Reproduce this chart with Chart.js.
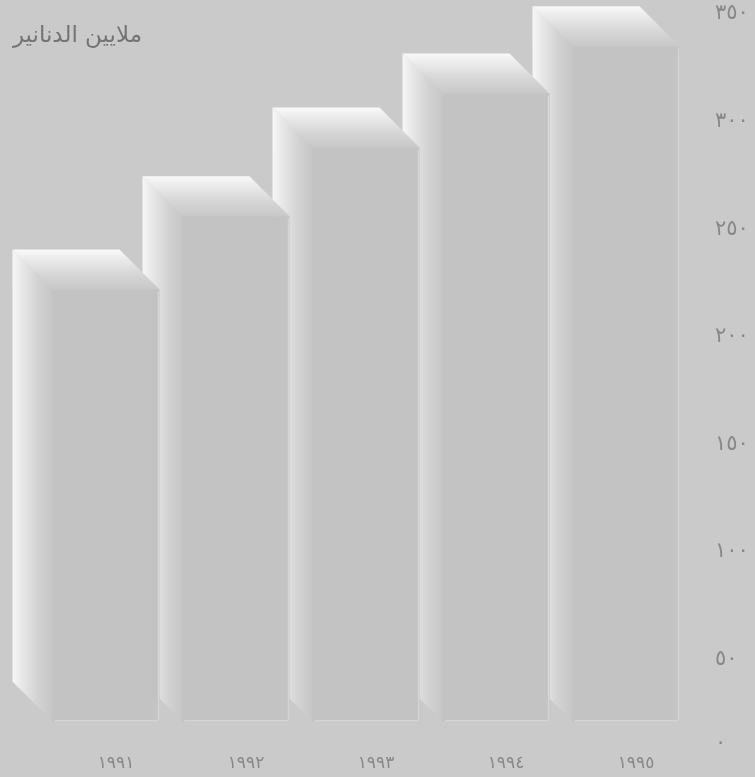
<!DOCTYPE html>
<html lang="ar">
<head>
<meta charset="utf-8">
<script src="https://cdn.jsdelivr.net/npm/chart.js@4.4.1/dist/chart.umd.min.js"></script>
<style>
html,body{margin:0;padding:0;background:#cacaca;width:755px;height:777px;overflow:hidden;}
#wrap{position:relative;width:755px;height:777px;}
#title{position:absolute;left:2px;top:21px;width:140px;text-align:right;direction:rtl;font-family:"DejaVu Sans",sans-serif;font-size:23px;line-height:27px;color:#747474;white-space:nowrap;}
canvas{position:absolute;left:0;top:0;}
</style>
</head>
<body>
<div id="wrap">
<canvas id="c" width="755" height="777"></canvas>
<div id="title">ملايين الدنانير</div>
</div>
<script>
// ---- data ----
const years = ['١٩٩١', '١٩٩٢', '١٩٩٣', '١٩٩٤', '١٩٩٥'];
const values = [222, 256, 288, 313, 335];
const yTicks = [0, 50, 100, 150, 200, 250, 300, 350];
const yTickLabels = ['٠', '٥٠', '١٠٠', '١٥٠', '٢٠٠', '٢٥٠', '٣٠٠', '٣٥٠'];

// ---- style ----
const DEPTH = 40;
const BAR_BASE = 21;

const bevelPlugin = {
  id: 'bevel',
  beforeDatasetsDraw(chart) {
    const ctx = chart.ctx;
    const meta = chart.getDatasetMeta(0);
    const d = DEPTH;
    ctx.save();
    for (let i = meta.data.length - 1; i >= 0; i--) {
      const p = meta.data[i].getProps(['x', 'y', 'base', 'width'], true);
      const L = p.x - p.width / 2, R = p.x + p.width / 2, T = p.y, B = p.base;
      // top face
      let g = ctx.createLinearGradient(0, T - d, 0, T);
      g.addColorStop(0, '#f9f9f9');
      g.addColorStop(0.2, '#ededed');
      g.addColorStop(0.65, '#d5d5d5');
      g.addColorStop(1, '#c8c8c8');
      ctx.fillStyle = g;
      ctx.beginPath();
      ctx.moveTo(L - d, T - d); ctx.lineTo(R - d, T - d); ctx.lineTo(R + 0.5, T + 0.5); ctx.lineTo(L, T + 0.5);
      ctx.closePath(); ctx.fill();
      // left face
      g = ctx.createLinearGradient(L - d, 0, L, 0);
      g.addColorStop(0, '#f7f7f7');
      g.addColorStop(0.2, '#eaeaea');
      g.addColorStop(0.65, '#d2d2d2');
      g.addColorStop(1, '#c6c6c6');
      ctx.fillStyle = g;
      ctx.beginPath();
      ctx.moveTo(L - d, T - d); ctx.lineTo(L + 0.5, T); ctx.lineTo(L + 0.5, B); ctx.lineTo(L - d, B - d);
      ctx.closePath(); ctx.fill();
    }
    ctx.restore();
  },
  afterDatasetsDraw(chart) {
    const ctx = chart.ctx;
    const meta = chart.getDatasetMeta(0);
    ctx.save();
    ctx.strokeStyle = '#d4d4d4';
    ctx.lineWidth = 1.5;
    meta.data.forEach(el => {
      const p = el.getProps(['x', 'y', 'base', 'width'], true);
      const L = p.x - p.width / 2, R = p.x + p.width / 2;
      ctx.beginPath();
      ctx.moveTo(L + 2, p.base - 1); ctx.lineTo(R - 1, p.base - 1);
      ctx.moveTo(R - 1, p.y + 2); ctx.lineTo(R - 1, p.base - 1);
      ctx.stroke();
    });
    ctx.restore();
  }
};

new Chart(document.getElementById('c'), {
  type: 'bar',
  data: {
    labels: years,
    datasets: [{
      data: values,
      base: BAR_BASE,
      backgroundColor: '#c3c3c3',
      borderWidth: 0,
      barPercentage: 0.823,
      categoryPercentage: 1
    }]
  },
  options: {
    responsive: false,
    animation: false,
    devicePixelRatio: 1,
    layout: { padding: { left: 41, top: 14, right: 0, bottom: 0 } },
    plugins: { legend: { display: false }, tooltip: { enabled: false } },
    scales: {
      x: {
        grid: { display: false, drawTicks: false },
        border: { display: false },
        ticks: {
          color: '#888888',
          font: { family: 'DejaVu Sans', size: 17 },
          mirror: true,
          padding: -7,
          labelOffset: 10,
          maxRotation: 0,
          autoSkip: false
        },
        afterFit(s) { s.height = 10; }
      },
      y: {
        position: 'right',
        min: 0,
        max: 350,
        grid: { display: false, drawTicks: false },
        border: { display: false },
        afterBuildTicks(s) { s.ticks = yTicks.map(v => ({ value: v })); },
        ticks: {
          color: '#888888',
          font: { family: 'DejaVu Sans', size: 21, lineHeight: 1.1 },
          padding: 24,
          callback: (v) => v === 0 ? [yTickLabels[0], '', ''] : yTickLabels[yTicks.indexOf(v)]
        },
        afterFit(s) { s.width = 64; s.paddingTop = 0; s.paddingBottom = 0; }
      }
    }
  },
  plugins: [bevelPlugin]
});
</script>
</body>
</html>
